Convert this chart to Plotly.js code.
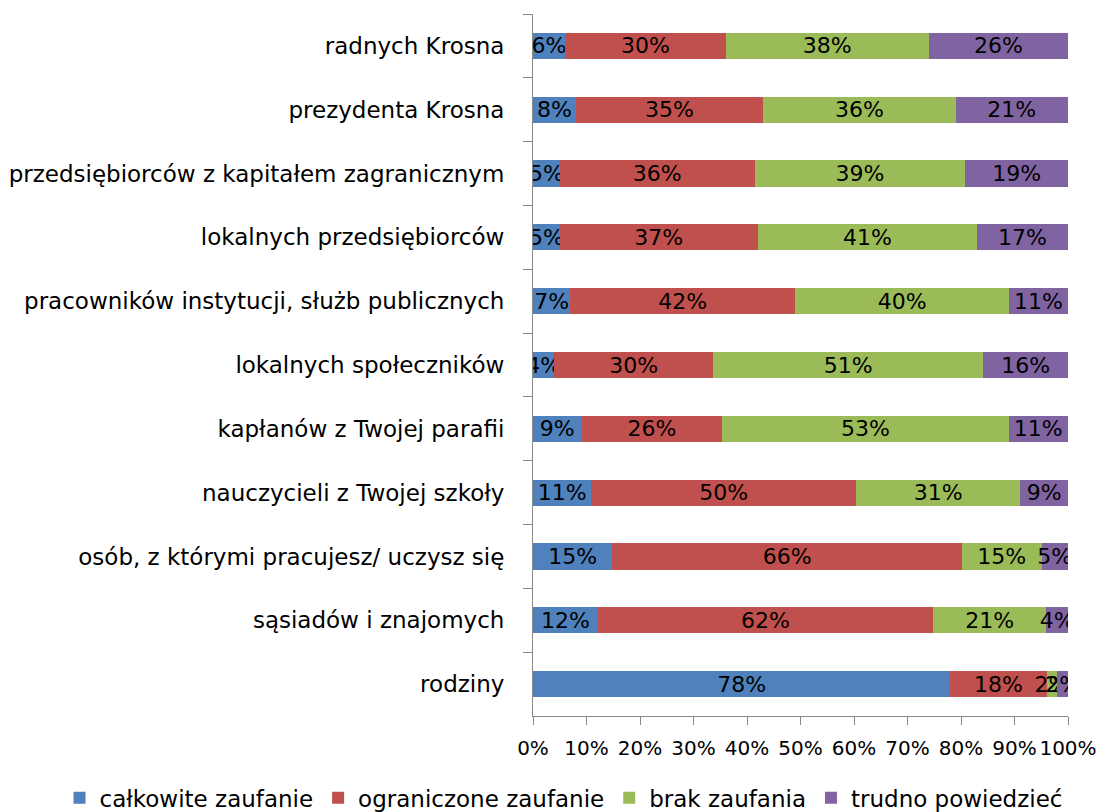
<!DOCTYPE html>
<html>
<head>
<meta charset="utf-8">
<script src="https://cdn.plot.ly/plotly-3.0.1.min.js"></script>
<style>html,body{margin:0;padding:0;background:#fff;}#chart{width:1098px;height:812px;}</style>
</head>
<body>
<div id="chart"></div>
<script>
var categories = [
  "radnych Krosna",
  "prezydenta Krosna",
  "przedsiębiorców z kapitałem zagranicznym",
  "lokalnych przedsiębiorców",
  "pracowników instytucji, służb publicznych",
  "lokalnych społeczników",
  "kapłanów z Twojej parafii",
  "nauczycieli z Twojej szkoły",
  "osób, z którymi pracujesz/ uczysz się",
  "sąsiadów i znajomych",
  "rodziny"
];
var seriesNames = ["całkowite zaufanie", "ograniczone zaufanie", "brak zaufania", "trudno powiedzieć"];
var calkowite  = [6, 8, 5, 5, 7, 4, 9, 11, 15, 12, 78];
var ograniczone = [30, 35, 36, 37, 42, 30, 26, 50, 66, 62, 18];
var brak       = [38, 36, 39, 41, 40, 51, 53, 31, 15, 21, 2];
var trudno     = [26, 21, 19, 17, 11, 16, 11, 9, 5, 4, 2];
var xTicks = [0, 10, 20, 30, 40, 50, 60, 70, 80, 90, 100];

var colors = ["#4F81BD", "#C0504D", "#9BBB59", "#8064A2"];
var seriesValues = [calkowite, ograniczone, brak, trudno];
var FONT = "'DejaVu Sans', sans-serif";

var traces = seriesValues.map(function (vals, i) {
  return {
    type: "bar",
    orientation: "h",
    name: seriesNames[i],
    y: categories,
    x: vals,
    text: vals.map(function (v) { return v + "%"; }),
    textposition: "inside",
    insidetextanchor: "middle",
    textangle: 0,
    constraintext: "none",
    insidetextfont: {family: FONT, size: 22, color: "#000"},
    marker: {color: colors[i], line: {width: 0}},
    hoverinfo: "none"
  };
});

var layout = {
  width: 1098,
  height: 812,
  margin: {l: 533, r: 30, t: 14, b: 96, autoexpand: false},
  barmode: "stack",
  barnorm: "percent",
  bargap: 0.59,
  paper_bgcolor: "#fff",
  plot_bgcolor: "#fff",
  font: {family: FONT, size: 20, color: "#000"},
  showlegend: true,
  legend: {
    orientation: "h",
    xref: "paper", x: -0.885, xanchor: "left",
    yref: "paper", y: -0.086, yanchor: "top",
    font: {family: FONT, size: 23, color: "#000"},
    traceorder: "normal",
    itemwidth: 30,
    tracegroupgap: 0
  },
  xaxis: {
    range: [0, 100],
    tickvals: xTicks,
    ticktext: xTicks.map(function (t) { return t + "%"; }),
    showgrid: false,
    zeroline: false,
    showline: true,
    linecolor: "#888",
    linewidth: 1,
    ticks: "outside",
    ticklen: 8,
    tickcolor: "#888",
    ticklabelstandoff: 6,
    tickfont: {family: FONT, size: 20, color: "#000"},
    fixedrange: true
  },
  yaxis: {
    type: "category",
    autorange: "reversed",
    tickson: "boundaries",
    showgrid: false,
    zeroline: false,
    showline: true,
    linecolor: "#888",
    linewidth: 1,
    ticks: "outside",
    ticklen: 9,
    tickcolor: "#888",
    ticklabelstandoff: 23,
    tickfont: {family: FONT, size: 23, color: "#000"},
    fixedrange: true
  }
};

Plotly.newPlot("chart", traces, layout, {displayModeBar: false, staticPlot: true});
</script>
</body>
</html>
